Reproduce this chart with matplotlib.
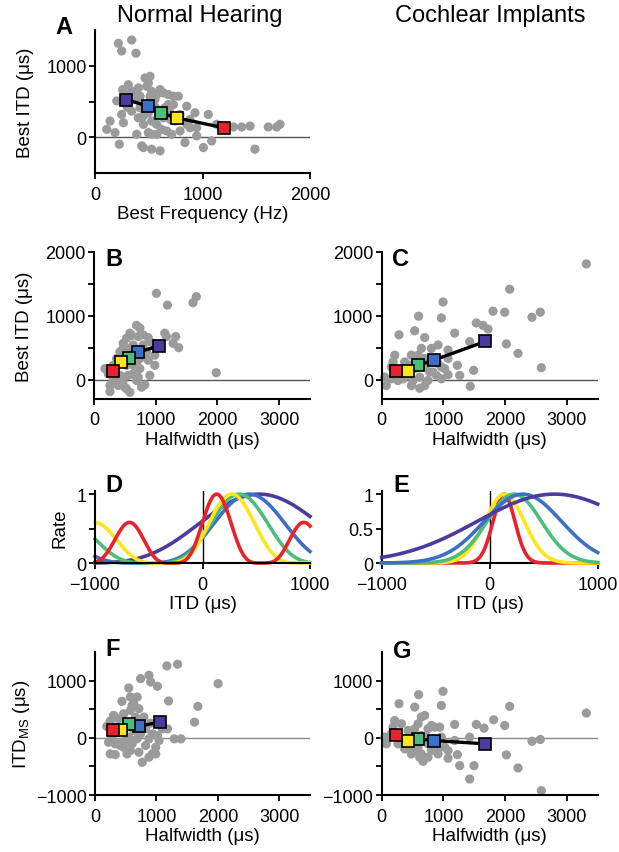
import numpy as np
import matplotlib
matplotlib.use('Agg')
import matplotlib.pyplot as plt

plt.rcParams['font.family'] = ['Liberation Sans', 'DejaVu Sans']
plt.rcParams['mathtext.fontset'] = 'custom'
plt.rcParams['mathtext.rm'] = 'Liberation Sans'

# ---- data ----
# A: best frequency (Hz) vs best ITD (us), normal hearing
a_bf = [217, 248, 341, 381, 202, 257, 310, 357, 403, 465, 512, 496, 481, 527, 574, 605,
        636, 682, 729, 775, 558, 512, 419, 388, 341, 248, 264, 140, 109, 186, 226, 403,
        496, 527, 450, 574, 620, 667, 713, 527, 496, 388, 450, 527, 605, 744, 853, 930,
        884, 837, 946, 1008, 1054, 1085, 1132, 884, 791, 698, 651, 682, 729, 1287, 1364,
        1442, 1612, 1690, 1721, 1488, 574, 636, 853, 946, 791, 419, 465, 434,
        330, 450, 560, 700, 300]
a_itd = [1315, 1208, 1361, 1176, 509, 667, 736, 644, 690, 829, 852, 759, 713, 644, 597, 667,
         620, 597, 574, 574, 528, 574, 574, 528, 366, 319, 204, 227, 111, 65, -97, 273,
         343, 227, 181, 181, 111, 88, 42, 42, 65, 42, -144, -167, -190, 227, 435, 343,
         134, -74, 19, -144, 319, -51, 181, 250, 319, 343, 412, 458, 458, 144, 144,
         157, 144, 144, 181, -167, 42, 273, 181, 134, 88, 412, 458, -120,
         620, 300, 420, 250, 420]

# B: halfwidth (us) vs best ITD (us), normal hearing
b_hw = [1011, 1189, 1603, 1657, 689, 742, 608, 527, 473, 796, 877, 1146, 1173, 1323, 1281,
        1372, 985, 985, 904, 823, 769, 581, 527, 258, 366, 420, 635, 716, 527, 635, 366,
        420, 473, 312, 178, 231, 339, 608, 796, 850, 904, 958, 1980, 473, 393, 689,
        447, 500, 581, 689, 742, 554, 312, 258, 393, 742, 823, 877, 635, 581, 716, 554, 500]
b_itd = [1354, 1169, 1206, 1301, 852, 809, 693, 651, 571, 704, 661, 730, 677, 677, 571,
         503, 386, 227, 69, -79, -116, -196, -143, -185, -37, 69, 95, 42, 227, 227, 333,
         439, 492, 227, 175, 95, 148, 439, 545, 439, 598, 571, 111, -11, -90, -11,
         333, 254, 307, 254, 175, 69, -11, -90, 42, 333, 386, 307, 545, 730, 677, 492, -116]

# C: halfwidth (us) vs best ITD (us), cochlear implants
c_hw = [3316, 2074, 1804, 1993, 2435, 2570, 994, 967, 599, 535, 697, 281, 1183, 1534, 1642,
        1723, 2020, 2209, 2587, 1426, 1075, 913, 805, 1226, 1264, 1490, 1436, 1075, 967,
        697, 481, 373, 211, 184, 49, 76, 265, 481, 616, 697, 886, 832, 616, 427, 535,
        157, 319, 454, 589, 697, 778, 913, 1021, 346, 508, 751, 967, 157, 265, 643, 805, 1075]
c_itd = [1814, 1418, 1074, 1058, 979, 1058, 1217, 968, 995, 767, 661, 704, 730, 889, 852,
         794, 561, 413, 190, 598, 466, 545, 492, 227, 69, 148, -101, 79, 201,
         333, 386, 280, 386, 280, 42, -90, -11, -90, -132, -90, 69, 122, 42, 69, 175,
         201, 175, 227, 386, 201, 122, 254, 175, 16, -11, -11, 16, 16, 95, 492, 280, 333]

# F: halfwidth (us) vs ITD_MS (us), normal hearing
f_hw = [1169, 1345, 2004, 741, 878, 906, 1016, 549, 576, 439, 631, 714, 1197, 1675, 1620,
        384, 247, 192, 274, 220, 329, 247, 329, 467, 576, 714, 769, 878, 933, 988, 878,
        1016, 1098, 1180, 1290, 1400, 741, 631, 467, 549, 412, 796, 906,
        302, 467, 576, 659, 741, 823, 933, 1043, 412, 494, 604, 823, 988, 522, 686, 604, 686]
f_itd = [1258, 1287, 948, 1035, 1094, 977, 901, 872, 714, 638, 597, 509, 644, 550, 275,
         333, 293, 199, 12, -76, -105, -281, -293, -164, -222, -252, -427, -339, -281, -164,
         -18, 41, 158, 158, -18, -18, 70, 129, 129, 12, -76, 363, 257,
         392, 421, 480, 363, 246, 158, 70, -47, -135, -47, -105, -135, -281, -281, -18, 567, 714]

# G: halfwidth (us) vs ITD_MS (us), cochlear implants
g_hw = [3316, 2074, 994, 967, 599, 535, 281, 697, 643, 1183, 1534, 1658, 1815, 1993, 1426,
        2435, 2570, 2020, 2209, 2587, 1426, 1496, 1264, 1226, 1075, 670, 616, 481, 805,
        913, 211, 49, 76, 265, 427, 535, 751, 859, 940, 1021, 751, 589, 373, 157,
        184, 319, 454, 643, 724, 832, 940, 1075, 535, 643, 751, 454, 319, 967, 1183, 589, 805]
g_itd = [433, 550, 813, 567, 755, 538, 597, 392, 363, 234, 234, 170, 316, 216, 12,
         -59, -29, -298, -527, -924, -720, -486, -486, -293, -357, -410, -339, -281, -222,
         -281, 304, 12, -105, -105, 129, 158, 158, 187, 187, -164, -105, -164, -193, 70,
         187, 246, 70, 41, 12, -105, -164, -222, -222, -281, -339, -164, -76, 12, -47, 246, 216]

# group medians, in colour order purple, blue, green, yellow, red
group_colors = ['#4a3c9e', '#3d6fc6', '#4dbd7b', '#ffe61a', '#e8232b']
nh_bf = [290, 490, 610, 760, 1200]
nh_best = [528, 436, 342, 272, 132]
nh_hw = [1050, 720, 560, 430, 300]
nh_ms = [275, 205, 235, 145, 130]
ci_hw = [1680, 840, 590, 427, 238]
ci_best = [600, 307, 227, 138, 132]
ci_ms = [-105, -47, -18, -47, 41]

dot_color = '#9b9b9b'
fs_tick = 13
fs_label = 13.5

fig = plt.figure(figsize=(6.19, 8.53), dpi=100)


def style(ax):
    for s in ['top', 'right']:
        ax.spines[s].set_visible(False)
    for s in ['left', 'bottom']:
        ax.spines[s].set_linewidth(1.5)
    ax.tick_params(direction='out', length=4, width=1.3, labelsize=fs_tick)
    ax.tick_params(axis='x', pad=5)
    ax.tick_params(axis='y', pad=2)


def scatter_panel(ax, x, y, mx, my, zero_color):
    ax.axhline(0, color=zero_color, lw=1.0, zorder=1)
    ax.scatter(x, y, s=44, color=dot_color, edgecolors='none', zorder=2, clip_on=False)
    order = np.argsort(mx)
    ax.plot(np.array(mx)[order], np.array(my)[order], color='k', lw=2.4, zorder=3)
    for xi, yi, c in zip(mx, my, group_colors):
        ax.plot(xi, yi, marker='s', ms=8.8, mfc=c, mec='k', mew=1.2, zorder=4, clip_on=False)
    style(ax)


def hw_axis(ax):
    ax.set_xlim(0, 3500)
    ax.set_xticks([0, 1000, 2000, 3000])
    ax.set_xlabel('Halfwidth (\u03bcs)', fontsize=fs_label, labelpad=2)


# A
axA = fig.add_axes([0.1535, 0.796, 0.3473, 0.1676])
scatter_panel(axA, a_bf, a_itd, nh_bf, nh_best, '#555555')
axA.set_xlim(0, 2000)
axA.set_ylim(-500, 1500)
axA.set_xticks([0, 1000, 2000])
axA.set_yticks([0, 500, 1000])
axA.set_yticklabels(['0', '', '1000'])
axA.set_xlabel('Best Frequency (Hz)', fontsize=fs_label, labelpad=2)
axA.set_ylabel('Best ITD (\u03bcs)', fontsize=fs_label, labelpad=9)

# B
axB = fig.add_axes([0.1519, 0.5311, 0.349, 0.1723])
scatter_panel(axB, b_hw, b_itd, nh_hw, nh_best, '#555555')
axB.set_ylim(-300, 2000)
axB.set_yticks([0, 500, 1000, 1500, 2000])
axB.set_yticklabels(['0', '', '1000', '', '2000'])
hw_axis(axB)
axB.set_ylabel('Best ITD (\u03bcs)', fontsize=fs_label, labelpad=9)

# C
axC = fig.add_axes([0.6166, 0.5311, 0.349, 0.1723])
scatter_panel(axC, c_hw, c_itd, ci_hw, ci_best, '#555555')
axC.set_ylim(-300, 2000)
axC.set_yticks([0, 500, 1000, 1500, 2000])
axC.set_yticklabels(['0', '', '1000', '', '2000'])
hw_axis(axC)

# D and E: tuning curves built from the group medians
itd = np.linspace(-1000, 1000, 801)

axD = fig.add_axes([0.1535, 0.3388, 0.3473, 0.0848])
axD.axvline(0, color='k', lw=1.0, zorder=1)
for bf, best, c in zip(nh_bf, nh_best, group_colors):
    ph = 2 * np.pi * bf * (itd - best) * 1e-6
    env = np.exp(-ph ** 2 / (2 * (2 * np.pi * 0.96) ** 2))
    rate = env * ((1 + np.cos(ph)) / 2) ** 2
    axD.plot(itd, rate, color=c, lw=2.6, zorder=2, clip_on=False)
axD.set_xlim(-1000, 1000)
axD.set_ylim(0, 1.05)
axD.set_xticks([-1000, 0, 1000])
axD.set_xticklabels(['\u22121000', '0', '1000'])
axD.set_yticks([0, 0.5, 1])
axD.set_yticklabels(['0', '', '1'])
style(axD)
axD.set_xlabel('ITD (\u03bcs)', fontsize=fs_label, labelpad=2)
axD.set_ylabel('Rate', fontsize=fs_label, labelpad=6)

axE = fig.add_axes([0.6166, 0.3388, 0.349, 0.0848])
axE.axvline(0, color='k', lw=1.0, zorder=1)
for k, (hw, best, c) in enumerate(zip(ci_hw, ci_best, group_colors)):
    sig = hw / 2.355
    rate = np.exp(-(itd - best) ** 2 / (2 * sig ** 2))
    axE.plot(itd, rate, color=c, lw=2.6, zorder=10 - k, clip_on=False)
axE.set_xlim(-1000, 1000)
axE.set_ylim(0, 1.05)
axE.set_xticks([-1000, 0, 1000])
axE.set_xticklabels(['\u22121000', '0', '1000'])
axE.set_yticks([0, 0.5, 1])
axE.set_yticklabels(['0', '0.5', '1'])
style(axE)
axE.set_xlabel('ITD (\u03bcs)', fontsize=fs_label, labelpad=2)

# F
axF = fig.add_axes([0.1535, 0.0668, 0.3473, 0.1676])
scatter_panel(axF, f_hw, f_itd, nh_hw, nh_ms, '#888888')
axF.set_ylim(-1000, 1500)
axF.set_yticks([-1000, -500, 0, 500, 1000])
axF.set_yticklabels(['\u22121000', '', '0', '', '1000'])
hw_axis(axF)
axF.set_ylabel('ITD$_\\mathregular{MS}$ (\u03bcs)', fontsize=fs_label, labelpad=3)

# G
axG = fig.add_axes([0.6166, 0.0668, 0.349, 0.1676])
scatter_panel(axG, g_hw, g_itd, ci_hw, ci_ms, '#888888')
axG.set_ylim(-1000, 1500)
axG.set_yticks([-1000, -500, 0, 500, 1000])
axG.set_yticklabels(['\u22121000', '', '0', '', '1000'])
hw_axis(axG)

# column titles and panel letters
fig.text(0.323, 0.981, 'Normal Hearing', ha='center', va='center', fontsize=17)
fig.text(0.7916, 0.981, 'Cochlear Implants', ha='center', va='center', fontsize=17)
letters = [('A', 0.0889, 0.9672), ('B', 0.1696, 0.6952), ('C', 0.6333, 0.6952),
           ('D', 0.1696, 0.4314), ('E', 0.6349, 0.4314), ('F', 0.1696, 0.238),
           ('G', 0.6349, 0.2368)]
for lab, x, y in letters:
    fig.text(x, y, lab, ha='left', va='center', fontsize=17, fontweight='bold')

fig.savefig('out.png', dpi=100)
